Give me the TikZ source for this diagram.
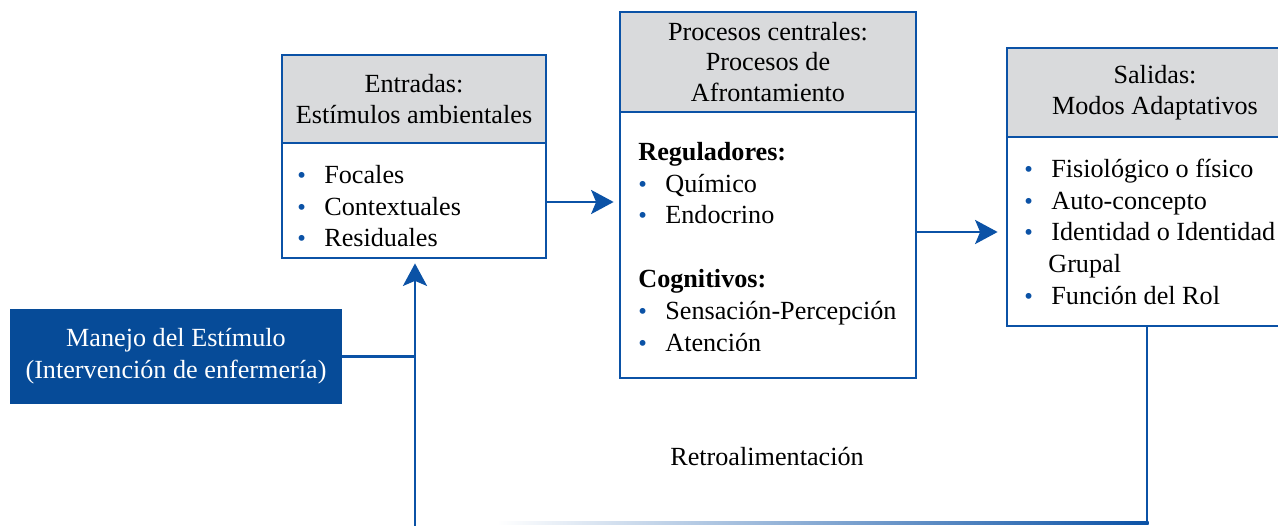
\documentclass[tikz,border=0pt]{standalone}
\usepackage{fontspec}
\setmainfont{Liberation Serif}
\usetikzlibrary{arrows.meta, calc, positioning}

\definecolor{lnblue}{HTML}{0B52A6}
\definecolor{mnblue}{HTML}{064B98}
\definecolor{hdgray}{HTML}{D9DADC}
\newcommand{\itm}[1][0.54cm]{\makebox[#1][l]{\textcolor{lnblue}{\fontsize{14}{14}\selectfont\textbullet}}}

\begin{document}
\begin{tikzpicture}[x=0.02cm, y=-0.02cm,
  every node/.style={font=\fontsize{14.9}{18.1}\selectfont},
  head/.style={draw=lnblue, fill=hdgray, line width=1.6pt, align=center, inner sep=0pt,
    font=\fontsize{14.9}{17.6}\selectfont},
  body/.style={draw=lnblue, fill=white, line width=1.6pt},
  list/.style={anchor=north west, align=left, inner sep=0pt},
  conn/.style={draw=lnblue, line width=1.6pt},
  tip/.style={-{Stealth[length=0.45cm, width=0.48cm, inset=0.1cm]}}]
  \useasboundingbox (0,0) rectangle (1278,526) ;
  \clip (0,0) rectangle (1278,526) ;

  % entradas
  \node[head, minimum width=5.28cm, minimum height=1.76cm] (entH) at (414,99) {Entradas:\\Estímulos ambientales} ;
  \node[body, minimum width=5.28cm, minimum height=2.3cm] (entB) at (414,200.5) {} ;
  \node[list] (entL) at (297,160.6) {\strut\itm Focales\\\itm Contextuales\\\itm Residuales} ;

  % procesos centrales
  \node[head, minimum width=5.92cm, minimum height=2cm] (proH) at (768,62) {Procesos centrales:\\Procesos de\\Afrontamiento} ;
  \node[body, minimum width=5.92cm, minimum height=5.32cm] (proB) at (768,245) {} ;
  \node[list] (proL) at (638,137.6)
    {\strut\textbf{Reguladores:}\\\itm Químico\\\itm Endocrino\\[18.1pt]\textbf{Cognitivos:}\\\itm Sensación-Percepción\\\itm Atención} ;

  % salidas
  \node[head, minimum width=5.92cm, minimum height=1.78cm] (salH) at (1155,92.5) {Salidas:\\Modos Adaptativos} ;
  \node[body, minimum width=5.92cm, minimum height=3.78cm] (salB) at (1155,231.5) {} ;
  \node[list] (salL) at (1024,154.6)
    {\strut\itm Fisiológico o físico\\\itm Auto-concepto\\\itm Identidad o Identidad\\\hspace*{0.48cm}Grupal\\\itm Función del Rol} ;

  \node[fill=mnblue, text=white, align=center, minimum width=6.64cm, minimum height=1.9cm] (mnj) at (176,356.5)
    {Manejo del Estímulo\\(Intervención de enfermería)} ;

  \node (retro) at (767,457) {Retroalimentación} ;

  \coordinate (bot) at (415,526) ;
  \coordinate (fb) at (1147,523) ;

  \draw[conn, tip, shorten >=0.1cm] (entB.east |- 0,202) -- (proB.west |- 0,202) ;
  \draw[conn, tip, shorten >=0.16cm] (proB.east |- 0,232) -- (salB.west |- 0,232) ;
  \draw[conn, tip, shorten >=0.08cm] (bot) -- (bot |- entB.south) ;
  \draw[conn] (mnj.east) -- (mnj.east -| bot) ;
  \draw[conn] (fb |- salB.south) -- (fb) ;
  \shade[left color=white, right color=lnblue] (497,521.8) rectangle (1148.6,524.2) ;

\end{tikzpicture}
\end{document}
